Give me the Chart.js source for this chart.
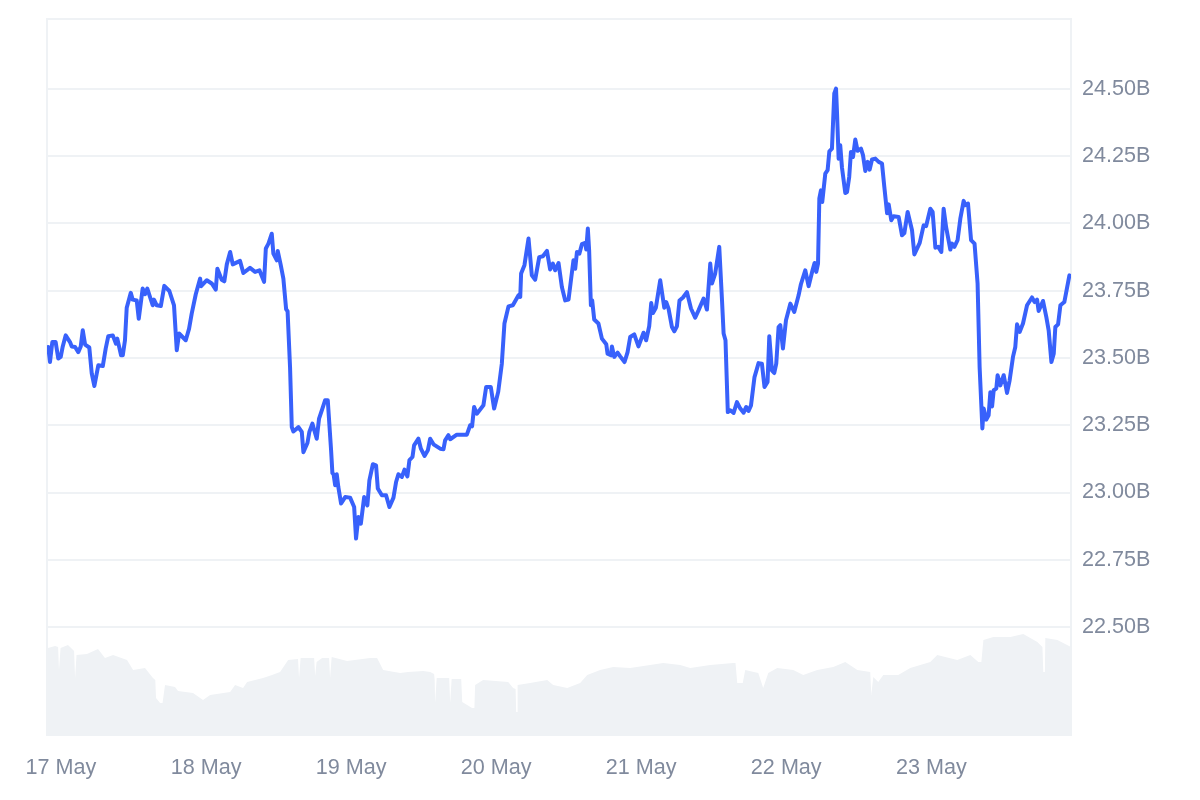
<!DOCTYPE html>
<html>
<head>
<meta charset="utf-8">
<title>Market cap, 17 May - 23 May</title>
<script src="https://cdn.jsdelivr.net/npm/chart.js@4"></script>
<style>
  html, body { margin: 0; padding: 0; background: #fff; }
  canvas { display: block; }
</style>
</head>
<body>
<canvas id="chart" width="1200" height="800"></canvas>
<script>
const dayLabels = ['17 May', '18 May', '19 May', '20 May', '21 May', '22 May', '23 May'];
const dayTicks = [0, 1, 2, 3, 4, 5, 6];
const capTicks = [22.5, 22.75, 23, 23.25, 23.5, 23.75, 24, 24.25, 24.5];

// days since 17 May 00:00
const priceDays = [
  -0.088, -0.076, -0.060, -0.037, -0.019, -0.002, 0.012, 0.032, 0.062, 0.074, 0.097, 0.119, 0.136, 0.150, 0.166,
  0.195, 0.212, 0.230, 0.257, 0.288, 0.308, 0.326, 0.357, 0.379, 0.388, 0.414, 0.426, 0.441, 0.453, 0.481,
  0.494, 0.522, 0.536, 0.563, 0.579, 0.595, 0.632, 0.641, 0.660, 0.688, 0.712, 0.747, 0.779, 0.798, 0.814,
  0.860, 0.883, 0.901, 0.929, 0.959, 0.966, 1.005, 1.039, 1.067, 1.078, 1.108, 1.126, 1.143, 1.166, 1.184,
  1.234, 1.257, 1.303, 1.338, 1.368, 1.400, 1.412, 1.430, 1.453, 1.464, 1.488, 1.494, 1.515, 1.533, 1.552,
  1.562, 1.579, 1.591, 1.602, 1.637, 1.660, 1.671, 1.699, 1.712, 1.733, 1.763, 1.779, 1.802, 1.821, 1.839,
  1.862, 1.871, 1.879, 1.890, 1.901, 1.912, 1.931, 1.959, 1.993, 2.021, 2.034, 2.050, 2.067, 2.090, 2.112,
  2.126, 2.150, 2.172, 2.184, 2.212, 2.241, 2.264, 2.292, 2.310, 2.326, 2.350, 2.368, 2.388, 2.402, 2.423,
  2.434, 2.464, 2.481, 2.506, 2.529, 2.545, 2.568, 2.614, 2.637, 2.648, 2.671, 2.683, 2.729, 2.798, 2.821,
  2.834, 2.848, 2.867, 2.912, 2.931, 2.963, 2.986, 3.014, 3.039, 3.057, 3.085, 3.115, 3.154, 3.166, 3.172,
  3.195, 3.223, 3.246, 3.269, 3.297, 3.322, 3.350, 3.372, 3.391, 3.407, 3.430, 3.453, 3.476, 3.499, 3.517,
  3.533, 3.545, 3.557, 3.574, 3.591, 3.614, 3.621, 3.632, 3.641, 3.653, 3.662, 3.676, 3.705, 3.729, 3.759,
  3.768, 3.791, 3.798, 3.814, 3.837, 3.855, 3.885, 3.906, 3.924, 3.952, 3.981, 4.016, 4.034, 4.055, 4.069,
  4.081, 4.101, 4.131, 4.159, 4.172, 4.188, 4.212, 4.228, 4.246, 4.264, 4.288, 4.315, 4.343, 4.372, 4.395,
  4.430, 4.453, 4.476, 4.488, 4.510, 4.538, 4.557, 4.568, 4.581, 4.597, 4.614, 4.637, 4.660, 4.683, 4.706,
  4.724, 4.740, 4.757, 4.781, 4.809, 4.832, 4.850, 4.871, 4.883, 4.901, 4.917, 4.931, 4.947, 4.959, 4.977,
  4.998, 5.028, 5.055, 5.085, 5.101, 5.131, 5.154, 5.181, 5.195, 5.207, 5.219, 5.228, 5.239, 5.248, 5.269,
  5.285, 5.297, 5.315, 5.331, 5.343, 5.350, 5.361, 5.372, 5.384, 5.407, 5.419, 5.434, 5.446, 5.460, 5.476,
  5.492, 5.515, 5.529, 5.545, 5.561, 5.575, 5.591, 5.614, 5.637, 5.660, 5.676, 5.695, 5.706, 5.724, 5.740,
  5.775, 5.798, 5.814, 5.837, 5.867, 5.883, 5.920, 5.947, 5.964, 5.993, 6.009, 6.028, 6.048, 6.069, 6.085,
  6.102, 6.131, 6.143, 6.159, 6.181, 6.200, 6.223, 6.234, 6.253, 6.274, 6.298, 6.319, 6.333, 6.352, 6.361,
  6.379, 6.395, 6.407, 6.419, 6.430, 6.448, 6.457, 6.476, 6.499, 6.522, 6.540, 6.563, 6.579, 6.591, 6.609,
  6.632, 6.660, 6.694, 6.712, 6.729, 6.740, 6.770, 6.793, 6.809, 6.828, 6.844, 6.855, 6.874, 6.890, 6.917,
  6.952
];

// market cap in billions
const priceValues = [
  23.541, 23.485, 23.559, 23.559, 23.498, 23.504, 23.543, 23.584, 23.559, 23.543, 23.541, 23.522, 23.543, 23.603, 23.550,
  23.539, 23.442, 23.396, 23.473, 23.470, 23.535, 23.581, 23.584, 23.553, 23.572, 23.510, 23.510, 23.566, 23.687, 23.742,
  23.717, 23.714, 23.646, 23.758, 23.737, 23.758, 23.696, 23.717, 23.696, 23.693, 23.768, 23.749, 23.696, 23.529, 23.591,
  23.566, 23.609, 23.665, 23.737, 23.795, 23.767, 23.789, 23.777, 23.754, 23.832, 23.791, 23.785, 23.848, 23.894, 23.848,
  23.861, 23.816, 23.835, 23.820, 23.826, 23.783, 23.907, 23.925, 23.962, 23.888, 23.863, 23.898, 23.845, 23.795, 23.681,
  23.674, 23.466, 23.243, 23.227, 23.243, 23.225, 23.150, 23.184, 23.225, 23.256, 23.200, 23.275, 23.312, 23.343, 23.343,
  23.157, 23.072, 23.068, 23.027, 23.068, 23.020, 22.959, 22.983, 22.981, 22.946, 22.829, 22.909, 22.884, 22.983, 22.952,
  23.045, 23.105, 23.101, 23.015, 22.990, 22.990, 22.946, 22.981, 23.039, 23.068, 23.058, 23.085, 23.060, 23.120, 23.132,
  23.175, 23.200, 23.163, 23.136, 23.157, 23.200, 23.179, 23.163, 23.161, 23.194, 23.213, 23.198, 23.215, 23.215, 23.250,
  23.246, 23.318, 23.293, 23.324, 23.392, 23.392, 23.312, 23.374, 23.479, 23.628, 23.692, 23.696, 23.733, 23.727, 23.814,
  23.845, 23.944, 23.807, 23.791, 23.875, 23.878, 23.898, 23.829, 23.851, 23.826, 23.853, 23.764, 23.714, 23.717, 23.795,
  23.863, 23.832, 23.894, 23.888, 23.923, 23.928, 23.903, 23.981, 23.900, 23.696, 23.714, 23.643, 23.628, 23.572, 23.551,
  23.516, 23.510, 23.543, 23.504, 23.520, 23.506, 23.485, 23.522, 23.578, 23.588, 23.543, 23.594, 23.566, 23.618, 23.704,
  23.667, 23.687, 23.789, 23.687, 23.708, 23.684, 23.615, 23.599, 23.618, 23.714, 23.725, 23.745, 23.684, 23.650, 23.677,
  23.721, 23.680, 23.851, 23.777, 23.814, 23.913, 23.714, 23.591, 23.566, 23.299, 23.306, 23.296, 23.336, 23.312, 23.297,
  23.318, 23.303, 23.324, 23.429, 23.481, 23.479, 23.392, 23.411, 23.581, 23.454, 23.444, 23.479, 23.615, 23.622, 23.535,
  23.640, 23.702, 23.671, 23.733, 23.774, 23.826, 23.767, 23.826, 23.853, 23.820, 23.851, 24.093, 24.123, 24.080, 24.185,
  24.198, 24.268, 24.278, 24.483, 24.501, 24.409, 24.241, 24.291, 24.208, 24.113, 24.117, 24.173, 24.266, 24.247, 24.312,
  24.270, 24.278, 24.254, 24.195, 24.229, 24.200, 24.238, 24.241, 24.229, 24.223, 24.136, 24.038, 24.071, 24.012, 24.027,
  24.024, 23.956, 23.964, 24.043, 23.975, 23.885, 23.928, 23.993, 23.990, 24.055, 24.043, 23.910, 23.913, 23.894, 24.055,
  23.986, 23.903, 23.925, 23.913, 23.938, 24.018, 24.084, 24.068, 24.074, 23.938, 23.925, 23.777, 23.466, 23.238, 23.312,
  23.271, 23.287, 23.373, 23.320, 23.380, 23.386, 23.436, 23.398, 23.436, 23.370, 23.417, 23.504, 23.541, 23.625, 23.597,
  23.628, 23.696, 23.725, 23.708, 23.717, 23.675, 23.712, 23.652, 23.603, 23.485, 23.516, 23.615, 23.625, 23.696, 23.708,
  23.807
];

const volumeDays = [
  -0.090, -0.041, -0.020, -0.014, -0.003, 0.048, 0.083, 0.090, 0.097, 0.107, 0.179, 0.255, 0.303, 0.359, 0.455, 0.497, 0.579,
  0.634, 0.650, 0.655, 0.683, 0.700, 0.717, 0.786, 0.807, 0.910, 0.979, 1.028, 1.166, 1.200, 1.255, 1.283, 1.338, 1.393,
  1.455, 1.510, 1.566, 1.634, 1.636, 1.641, 1.652, 1.745, 1.748, 1.752, 1.762, 1.800, 1.848, 1.851, 1.855, 1.866, 1.972, 2.131,
  2.179, 2.221, 2.338, 2.393, 2.497, 2.545, 2.572, 2.576, 2.579, 2.590, 2.676, 2.680, 2.683, 2.693, 2.759, 2.763, 2.766, 2.834,
  2.850, 2.855, 2.910, 3.083, 3.117, 3.134, 3.138, 3.144, 3.148, 3.234, 3.352, 3.393, 3.490, 3.579, 3.628, 3.717, 3.807, 3.924,
  4.152, 4.269, 4.338, 4.476, 4.634, 4.650, 4.662, 4.700, 4.717, 4.807, 4.841, 4.876, 4.938, 5.048, 5.117, 5.214, 5.324,
  5.407, 5.490, 5.579, 5.583, 5.586, 5.600, 5.634, 5.669, 5.772, 5.855, 5.993, 6.041, 6.179, 6.269, 6.324, 6.345, 6.359,
  6.428, 6.545, 6.634, 6.731, 6.766, 6.769, 6.772, 6.783, 6.786, 6.869, 6.963
];

// volume, the axis is hidden so the unit is a guess
const volumeValues = [
  0.88, 0.90, 0.89, 0.66, 0.88, 0.91, 0.86, 0.85, 0.58, 0.81, 0.82, 0.87, 0.78, 0.81, 0.76, 0.66, 0.68,
  0.58, 0.56, 0.38, 0.33, 0.33, 0.51, 0.49, 0.45, 0.43, 0.36, 0.41, 0.44, 0.51, 0.48, 0.54, 0.56, 0.58,
  0.61, 0.64, 0.76, 0.77, 0.77, 0.58, 0.78, 0.78, 0.78, 0.60, 0.74, 0.78, 0.78, 0.78, 0.58, 0.79, 0.75, 0.78,
  0.78, 0.66, 0.63, 0.64, 0.65, 0.64, 0.62, 0.56, 0.33, 0.58, 0.58, 0.58, 0.33, 0.57, 0.57, 0.57, 0.34, 0.28,
  0.28, 0.51, 0.56, 0.54, 0.48, 0.47, 0.24, 0.24, 0.51, 0.53, 0.56, 0.51, 0.48, 0.53, 0.61, 0.66, 0.69, 0.68,
  0.73, 0.71, 0.68, 0.71, 0.73, 0.73, 0.53, 0.53, 0.66, 0.63, 0.48, 0.63, 0.68, 0.66, 0.61, 0.66, 0.69,
  0.74, 0.66, 0.64, 0.64, 0.41, 0.59, 0.54, 0.61, 0.61, 0.68, 0.74, 0.81, 0.76, 0.81, 0.74, 0.74, 0.96,
  0.99, 0.99, 1.02, 0.94, 0.89, 0.89, 0.64, 0.64, 0.98, 0.96, 0.89
];

const lineColor = '#3861fb';
const gridColor = '#eff2f5';
const volumeColor = '#eff2f5';
const textColor = '#808a9d';
const tickFont = { family: '"Liberation Sans", Arial, sans-serif', size: 21.6 };

function toPoints(xs, ys) {
  return xs.map((x, i) => ({ x: x, y: ys[i] }));
}

// left, top and right edge of the plot
const plotFrame = {
  id: 'plotFrame',
  beforeDatasetsDraw(chart) {
    const { ctx, chartArea: a } = chart;
    ctx.save();
    ctx.strokeStyle = gridColor;
    ctx.lineWidth = 2;
    ctx.beginPath();
    ctx.moveTo(a.left, a.bottom);
    ctx.lineTo(a.left, a.top);
    ctx.lineTo(a.right, a.top);
    ctx.lineTo(a.right, a.bottom);
    ctx.stroke();
    ctx.restore();
  },
};

new Chart(document.getElementById('chart'), {
  type: 'line',
  data: {
    datasets: [
      {
        label: 'Market cap',
        data: toPoints(priceDays, priceValues),
        yAxisID: 'y',
        borderColor: lineColor,
        borderWidth: 4,
        borderJoinStyle: 'round',
        borderCapStyle: 'round',
        pointRadius: 0,
        tension: 0,
        fill: false,
        order: 1,
      },
      {
        label: 'Volume',
        data: toPoints(volumeDays, volumeValues),
        yAxisID: 'vol',
        borderWidth: 0,
        backgroundColor: volumeColor,
        pointRadius: 0,
        tension: 0,
        fill: 'origin',
        order: 2,
      },
    ],
  },
  options: {
    responsive: false,
    animation: false,
    devicePixelRatio: 1,
    layout: { padding: { left: 47, top: 19, right: 0, bottom: 0 } },
    plugins: { legend: { display: false }, tooltip: { enabled: false } },
    scales: {
      x: {
        type: 'linear',
        min: -0.0966,
        max: 6.963,
        afterBuildTicks(axis) {
          axis.ticks = dayTicks.map((v) => ({ value: v }));
        },
        afterFit(axis) {
          axis.height = 64;
        },
        grid: { display: false, drawTicks: false },
        border: { display: false },
        ticks: {
          autoSkip: false,
          maxRotation: 0,
          padding: 19,
          color: textColor,
          font: tickFont,
          callback: (v) => dayLabels[dayTicks.indexOf(v)],
        },
      },
      y: {
        position: 'right',
        min: 22.095,
        max: 24.76,
        afterBuildTicks(axis) {
          axis.ticks = capTicks.map((v) => ({ value: v }));
        },
        afterFit(axis) {
          axis.width = 129;
          axis.paddingTop = 0;
          axis.paddingBottom = 0;
        },
        grid: { color: gridColor, lineWidth: 2, drawTicks: false },
        border: { display: false },
        ticks: {
          padding: 11,
          color: textColor,
          font: tickFont,
          callback: (v) => v.toFixed(2) + 'B',
        },
      },
      vol: {
        display: false,
        min: 0,
        max: 7.17,
      },
    },
  },
  plugins: [plotFrame],
});
</script>
</body>
</html>
